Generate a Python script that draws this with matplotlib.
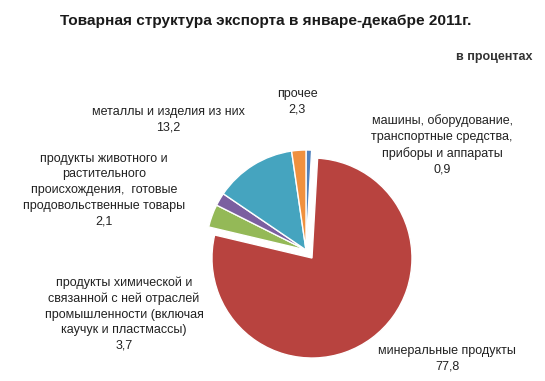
import matplotlib
matplotlib.use("Agg")
import matplotlib.pyplot as plt

plt.rcParams['font.family'] = ['Liberation Sans', 'DejaVu Sans']

title = "Товарная структура экспорта в январе-декабре 2011г."
unit = "в процентах"
labels = [
    "машины, оборудование,\nтранспортные средства,\nприборы и аппараты",
    "минеральные продукты",
    "продукты химической и\nсвязанной с ней отраслей\nпромышленности (включая\nкаучук и пластмассы)",
    "продукты животного и\nрастительного\nпроисхождения,  готовые\nпродовольственные товары",
    "металлы и изделия из них",
    "прочее",
]
values = [0.9, 77.8, 3.7, 2.1, 13.2, 2.3]
value_text = ["0,9", "77,8", "3,7", "2,1", "13,2", "2,3"]
colors = ["#4F81BD", "#B8433F", "#94B957", "#7B5FA0", "#45A4BF", "#F0913F"]
explode = [0, 10, 0, 0, 0, 0]

W, H = 545, 381
fig = plt.figure(figsize=(W / 100, H / 100), dpi=100)
ax = fig.add_axes([0, 0, 1, 1])

ax.pie(values, colors=colors, explode=explode, startangle=90, counterclock=False,
       center=(306, H - 250), radius=100,
       wedgeprops=dict(edgecolor="white", linewidth=1.0))
ax.set_xlim(0, W)
ax.set_ylim(0, H)
ax.set_aspect('equal')
ax.axis('off')

ax.text(266, H - 21, title, ha='center', va='center', fontsize=11.1,
        fontweight='bold', color='#1a1a1a')
ax.text(532, H - 57, unit, ha='right', va='center', fontsize=9,
        fontweight='bold', color='#333333')

# label block centres in pixel coordinates
label_pos = [(442, 145), (447, 359), (124, 314), (104, 190), (168, 120), (297, 102)]
for lab, val, (x, y) in zip(labels, value_text, label_pos):
    ax.text(x, H - y, lab + "\n" + val, ha='center', va='center', fontsize=9,
            color='#222222', linespacing=1.4, multialignment='center')

fig.savefig("out.png", dpi=100)
